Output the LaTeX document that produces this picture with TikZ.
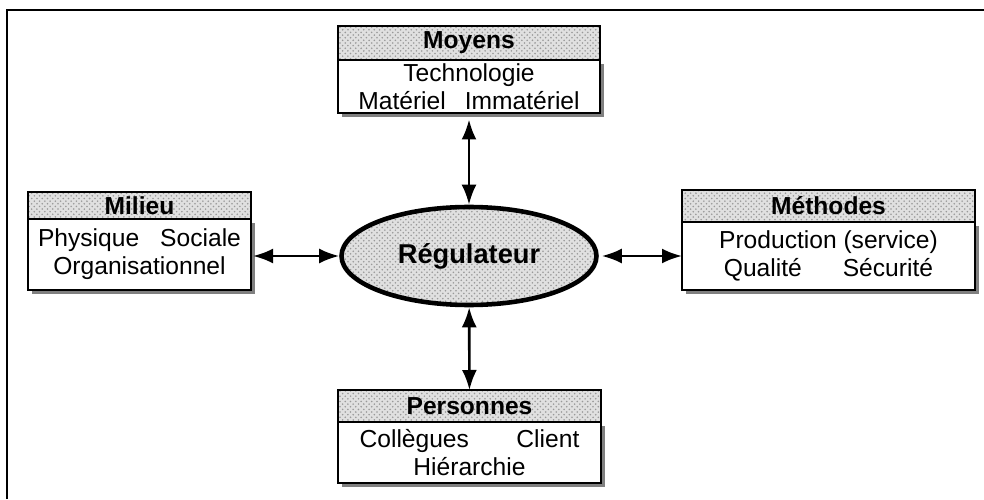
\documentclass[tikz,border=0pt]{standalone}
\usepackage{fontspec}
\setmainfont{Liberation Sans}
\usepackage{tikz}
\usetikzlibrary{positioning,shadows,patterns,shapes.geometric,arrows.meta}

\tikzset{
  titre/.style={draw,line width=1.4pt,outer sep=0pt,inner sep=0pt,
    preaction={fill=black!12},pattern=crosshatch dots,pattern color=black!40,
    font=\bfseries\fontsize{14}{16}\selectfont},
  corps/.style={draw,line width=1.4pt,outer sep=0pt,inner sep=0pt,fill=white,
    align=center,font=\fontsize{14}{16}\selectfont,
    drop shadow={shadow xshift=0.08cm,shadow yshift=-0.08cm,fill=black!50,opacity=1}},
  fleche/.style={{Latex[length=0.4cm,width=0.3cm]}-{Latex[length=0.4cm,width=0.3cm]},line width=1.5pt}
}

\begin{document}
\begin{tikzpicture}
\useasboundingbox (0,0) rectangle (19.68,9.98);
\draw[line width=1.3pt] (0.14,0) -- (0.14,9.78) -- (19.68,9.78);

\node[titre,minimum width=5.24cm,minimum height=0.68cm] (moyens) at (9.38,9.12) {Moyens};
\node[corps,minimum width=5.24cm,minimum height=1.06cm,below=0pt of moyens] (moyensC)
  {Technologie\\Matériel\hspace{0.38cm}Immatériel};

\node[titre,minimum width=4.46cm,minimum height=0.54cm] (milieu) at (2.79,5.87) {Milieu};
\node[corps,minimum width=4.46cm,minimum height=1.42cm,below=0pt of milieu] (milieuC)
  {Physique\hspace{0.42cm}Sociale\\Organisationnel};

\node[titre,minimum width=5.86cm,minimum height=0.64cm] (methodes) at (16.57,5.86) {Méthodes};
\node[corps,minimum width=5.86cm,minimum height=1.36cm,below=0pt of methodes] (methodesC)
  {Production (service)\\Qualité\hspace{0.82cm}Sécurité};

\node[titre,minimum width=5.26cm,minimum height=0.64cm] (personnes) at (9.39,1.86) {Personnes};
\node[corps,minimum width=5.26cm,minimum height=1.22cm,below=0pt of personnes] (personnesC)
  {Collègues\hspace{0.95cm}Client\\Hiérarchie};

\node[draw,ellipse,line width=2.6pt,inner sep=0pt,minimum width=5.1cm,minimum height=1.96cm,
  preaction={fill=black!12},pattern=crosshatch dots,pattern color=black!40,
  font=\bfseries\fontsize{15.5}{18}\selectfont] (reg) at (9.38,4.86) {Régulateur};

\draw[fleche,shorten <=0.13cm] (moyensC) -- (reg);
\draw[fleche] (reg) -- (personnes);
\draw[fleche,shorten <=0.04cm] (reg -| milieuC.east) -- (reg);
\draw[fleche,shorten <=0.06cm] (reg) -- (reg -| methodesC.west);
\end{tikzpicture}
\end{document}
